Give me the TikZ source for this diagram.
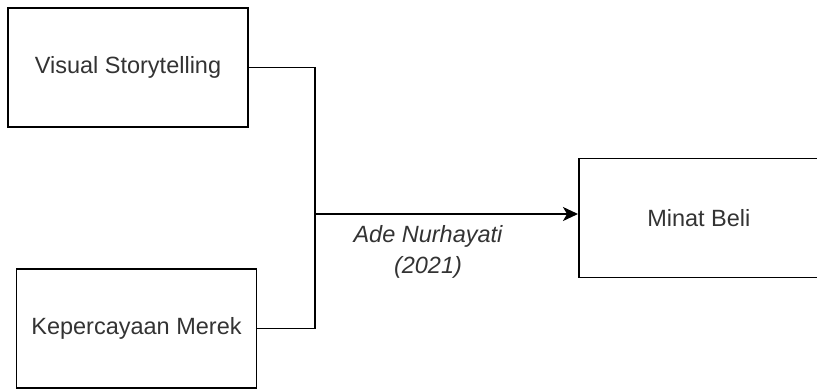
\documentclass[tikz,border=0pt]{standalone}
\usepackage{fontspec}
\setmainfont{Liberation Sans}
\usetikzlibrary{arrows.meta}
\definecolor{txtgray}{HTML}{333333}
\tikzset{
  varbox/.style={draw=black, line width=1.7pt, minimum width=240pt, minimum height=119pt,
    inner sep=0pt, text=txtgray, font=\fontsize{23.5}{28}\selectfont},
  conn/.style={draw=black, line width=1.7pt},
  lbltext/.style={text=txtgray, align=center, inner sep=0pt,
    font=\fontsize{23.5}{31}\selectfont\itshape}
}
\begin{document}
\begin{tikzpicture}[x=1pt,y=-1pt]
\useasboundingbox (0,0) rectangle (817,391);
\node[varbox] (vs) at (128,67.5) {Visual Storytelling};
\node[varbox] (kp) at (136.5,328.5) {Kepercayaan Merek};
\node[varbox, anchor=west] (mb) at (578,218) {Minat Beli};
\coordinate (jv) at (315,214);
\draw[conn] (vs.east) -- (vs.east -| jv) -- (kp.east -| jv) -- (kp.east);
\draw[conn, -{Stealth[length=15pt,width=14pt,inset=4pt]}] (jv) -- (jv -| mb.west);
\node[lbltext, anchor=base] (lbl) at (428,273) {Ade Nurhayati\\(2021)};
\end{tikzpicture}
\end{document}
